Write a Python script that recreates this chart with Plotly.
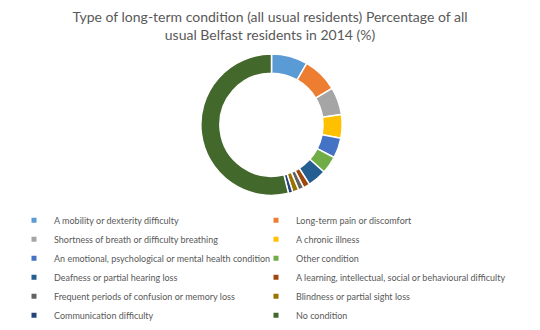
import plotly.graph_objects as go

labels = [
    "A mobility or dexterity difficulty",
    "Long-term pain or discomfort",
    "Shortness of breath or difficulty breathing",
    "A chronic illness",
    "An emotional, psychological or mental health condition",
    "Other condition",
    "Deafness or partial hearing loss",
    "A learning, intellectual, social or behavioural difficulty",
    "Frequent periods of confusion or memory loss",
    "Blindness or partial sight loss",
    "Communication difficulty",
    "No condition",
]
values = [8.3, 8.1, 6.3, 5.4, 4.6, 4.0, 4.3, 1.5, 1.25, 1.4, 1.0, 53.9]
colors = ["#5B9BD5", "#ED7D31", "#A5A5A5", "#FFC000", "#4472C4", "#70AD47",
          "#255E91", "#9E480E", "#636363", "#997300", "#264478", "#43682B"]

title_text = ("Type of long-term condition (all usual residents) Percentage of all<br>"
              "usual Belfast residents in 2014 (%)")

fig = go.Figure()
fig.add_trace(go.Pie(
    labels=labels, values=values, sort=False, direction="clockwise", rotation=0,
    hole=0.73, textinfo="none", hoverinfo="label+value", showlegend=False,
    marker=dict(colors=colors, line=dict(color="white", width=1.5)),
    domain=dict(x=[197/540, 346/540], y=[1-206/330, 1-57/330]),
))
# legend entries with small square markers (legend only); two columns
for i, (lab, col) in enumerate(zip(labels, colors)):
    fig.add_trace(go.Scatter(
        x=[None], y=[None], mode="markers", name=lab,
        marker=dict(symbol="square", size=5, color=col),
        hoverinfo="skip",
        legend="legend" if i % 2 == 0 else "legend2",
    ))

legend_common = dict(orientation="v", yanchor="top", font=dict(size=9, color="#595959"),
                     itemwidth=30, bgcolor="rgba(0,0,0,0)", tracegroupgap=0)

fig.update_layout(
    width=540, height=330,
    margin=dict(l=0, r=0, t=0, b=0),
    paper_bgcolor="white", plot_bgcolor="white",
    font=dict(family="Lato, sans-serif", color="#595959"),
    title=dict(text=title_text, x=0.5, xanchor="center", yref="container",
               y=0.933, yanchor="top",
               font=dict(size=14, color="#595959")),
    xaxis=dict(visible=False), yaxis=dict(visible=False),
    showlegend=True,
    legend=dict(x=14/540, xanchor="left", y=1-217/330, **legend_common),
    legend2=dict(x=256/540, xanchor="left", y=1-217/330, **legend_common),
)

fig.write_html("out.html")
